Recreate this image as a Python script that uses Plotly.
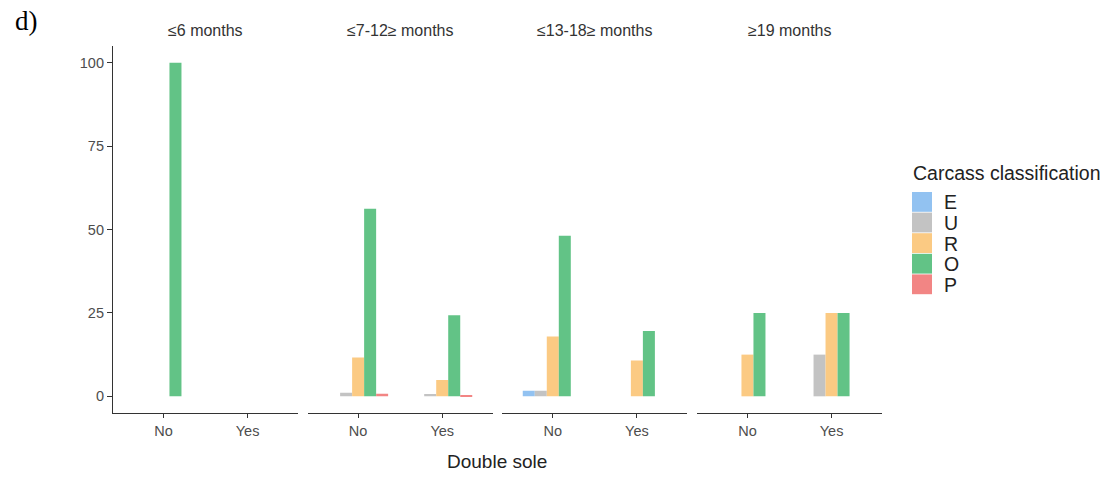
import plotly.graph_objects as go

# ---------------- data ----------------
age_groups = ["≤6 months", "≤7-12≥ months", "≤13-18≥ months", "≥19 months"]
double_sole = ["No", "Yes"]
classes = ["E", "U", "R", "O", "P"]

# percentages per age group: [No, Yes]
E_vals = [[0, 0], [0, 0], [1.7, 0], [0, 0]]
U_vals = [[0, 0], [1.1, 0.7], [1.7, 0], [0, 12.5]]
R_vals = [[0, 0], [11.6, 4.9], [17.9, 10.7], [12.5, 25]]
O_vals = [[100, 0], [56.2, 24.3], [48.1, 19.6], [25, 25]]
P_vals = [[0, 0], [0.8, 0.4], [0, 0], [0, 0]]

y_ticks = [0, 25, 50, 75, 100]

# ---------------- style ----------------
colors = {"E": "#92C2F1", "U": "#C3C3C3", "R": "#FBCA83", "O": "#62C386", "P": "#F28584"}
series = {"E": E_vals, "U": U_vals, "R": R_vals, "O": O_vals, "P": P_vals}

W, H = 1107, 477
L, R_, T, B = 113, 225, 46, 64
plot_w = W - L - R_
plot_h = H - T - B
panel_w = 185
gap = (plot_w - 4 * panel_w) / 3

FONT = "Liberation Sans, Arial, sans-serif"
AXIS_COL = "#333333"
TXT_COL = "#4d4d4d"

fig = go.Figure()

for i, grp in enumerate(age_groups):
    xa = "x" if i == 0 else f"x{i+1}"
    for c in classes:
        fig.add_trace(go.Bar(
            x=double_sole, y=series[c][i], name=c,
            marker=dict(color=colors[c], line=dict(width=0)),
            xaxis=xa, yaxis="y", showlegend=False,
            offsetgroup=c,
        ))

layout_axes = {}
annotations = []
for i, grp in enumerate(age_groups):
    d0 = (i * (panel_w + gap)) / plot_w
    d1 = (i * (panel_w + gap) + panel_w) / plot_w
    key = "xaxis" if i == 0 else f"xaxis{i+1}"
    layout_axes[key] = dict(
        domain=[d0, d1], type="category", range=[-0.6, 1.6],
        showline=True, linecolor=AXIS_COL, linewidth=1.2,
        ticks="outside", ticklen=4, tickcolor=AXIS_COL, tickwidth=1.2,
        tickfont=dict(family=FONT, size=14.5, color=TXT_COL),
        showgrid=False, zeroline=False, anchor="y", fixedrange=True,
    )
    annotations.append(dict(
        text=grp, x=(d0 + d1) / 2, y=1 + 15 / plot_h, xref="paper", yref="paper",
        xanchor="center", yanchor="middle", showarrow=False,
        font=dict(family=FONT, size=16, color="#333333"),
    ))

fig.update_layout(
    **layout_axes,
    yaxis=dict(
        range=[-5, 105], tickvals=y_ticks, ticktext=[str(v) for v in y_ticks],
        showline=True, linecolor=AXIS_COL, linewidth=1.2,
        ticks="outside", ticklen=5, tickcolor=AXIS_COL, tickwidth=1.2,
        tickfont=dict(family=FONT, size=14.5, color=TXT_COL),
        showgrid=False, zeroline=False, anchor="x", fixedrange=True,
    ),
    barmode="group", bargap=0.286, bargroupgap=0,
    width=W, height=H,
    margin=dict(l=L, r=R_, t=T, b=B, pad=0),
    plot_bgcolor="white", paper_bgcolor="white",
    showlegend=False,
)

# x axis title
annotations.append(dict(
    text="Double sole", x=(497 - L) / plot_w, y=-(461 - (T + plot_h)) / plot_h,
    xref="paper", yref="paper", xanchor="center", yanchor="middle", showarrow=False,
    font=dict(family=FONT, size=19, color="#222222"),
))
# panel label
annotations.append(dict(
    text="d)", x=(13 - L) / plot_w, y=(T + plot_h - 21) / plot_h,
    xref="paper", yref="paper", xanchor="left", yanchor="middle", showarrow=False,
    font=dict(family="Liberation Serif, Times New Roman, serif", size=27, color="#000000"),
))

# legend (drawn manually to match ggplot key sizes)
def px_x(px):
    return (px - L) / plot_w

def px_y(py):
    return (T + plot_h - py) / plot_h

annotations.append(dict(
    text="Carcass classification", x=px_x(911), y=px_y(173),
    xref="paper", yref="paper", xanchor="left", yanchor="middle", showarrow=False,
    font=dict(family=FONT, size=19.5, color="#222222"),
))
shapes = []
key_top = 192
key_h = 20.6
for j, c in enumerate(classes):
    top = key_top + j * key_h
    shapes.append(dict(
        type="rect", xref="paper", yref="paper",
        x0=px_x(912), x1=px_x(932), y0=px_y(top + key_h - 0.8), y1=px_y(top),
        fillcolor=colors[c], line=dict(width=0), layer="above",
    ))
    annotations.append(dict(
        text=c, x=px_x(942), y=px_y(top + key_h / 2), xref="paper", yref="paper",
        xanchor="left", yanchor="middle", showarrow=False,
        font=dict(family=FONT, size=19.5, color="#222222"),
    ))

fig.update_layout(annotations=annotations, shapes=shapes)

fig.write_html(
    "out.html",
    config={"displayModeBar": False},
    post_script="document.body.style.margin='0px';document.body.style.overflow='hidden';",
)
